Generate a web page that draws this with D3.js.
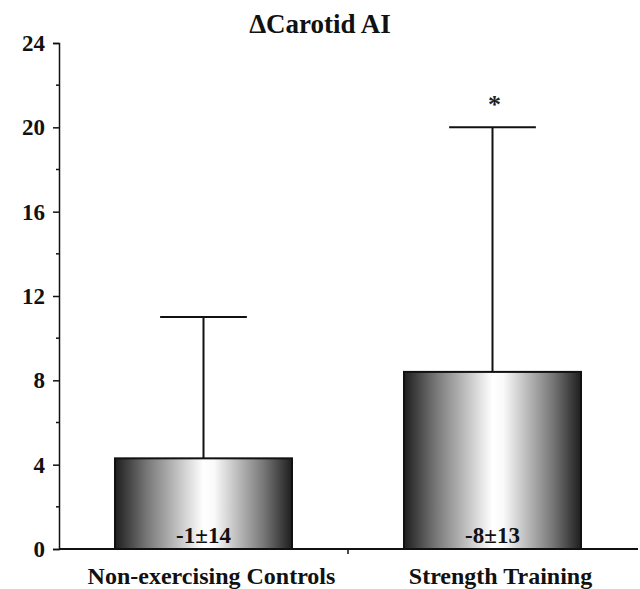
<!DOCTYPE html>
<html>
<head>
<meta charset="utf-8">
<script src="https://cdnjs.cloudflare.com/ajax/libs/d3/7.8.5/d3.min.js"></script>
<style>
  body { margin: 0; background: #fff; }
</style>
</head>
<body>
<script>
// data
var categories = ["Non-exercising Controls", "Strength Training"];
var means = [4.3, 8.4];
var errors = [6.7, 11.6];
var barLabels = ["-1\u00b114", "-8\u00b113"];
var marks = ["", "*"];
var yTicks = [0, 4, 8, 12, 16, 20, 24];
var yMinorTicks = [2, 6, 10, 14, 18, 22];

var width = 640;
var height = 589;
var serifFont = '"Liberation Serif", serif';

var svg = d3.select('body').append('svg')
    .attr('width', width)
    .attr('height', height)
    .attr('font-family', serifFont)
    .attr('font-weight', 'bold');

var x = d3.scaleBand()
    .domain(categories)
    .range([59, 637])
    .paddingInner(0.3875)
    .paddingOuter(0.19375);

var y = d3.scaleLinear()
    .domain([0, 24])
    .range([549, 43]);

// gradient for the bars
var grad = svg.append('defs').append('linearGradient')
    .attr('id', 'barGrad')
    .attr('x1', '0%').attr('x2', '100%')
    .attr('y1', '0%').attr('y2', '0%');
grad.append('stop').attr('offset', '0%').attr('stop-color', '#1e1e1e');
grad.append('stop').attr('offset', '18%').attr('stop-color', '#777');
grad.append('stop').attr('offset', '50%').attr('stop-color', '#fff');
grad.append('stop').attr('offset', '56%').attr('stop-color', '#fafafa');
grad.append('stop').attr('offset', '84%').attr('stop-color', '#777');
grad.append('stop').attr('offset', '100%').attr('stop-color', '#1e1e1e');

var data = categories.map(function(c, i) {
    return { cat: c, mean: means[i], err: errors[i], label: barLabels[i], mark: marks[i] };
});

// error bars (drawn first so bar covers the stem)
var capW = x.bandwidth() * 0.49;
var eb = svg.append('g').attr('stroke', '#111').attr('stroke-width', 2);
eb.selectAll('.stem').data(data).enter().append('line')
    .attr('x1', function(d) { return x(d.cat) + x.bandwidth() / 2; })
    .attr('x2', function(d) { return x(d.cat) + x.bandwidth() / 2; })
    .attr('y1', function(d) { return y(d.mean); })
    .attr('y2', function(d) { return y(d.mean + d.err); });
eb.selectAll('.cap').data(data).enter().append('line')
    .attr('x1', function(d) { return x(d.cat) + x.bandwidth() / 2 - capW / 2; })
    .attr('x2', function(d) { return x(d.cat) + x.bandwidth() / 2 + capW / 2; })
    .attr('y1', function(d) { return y(d.mean + d.err); })
    .attr('y2', function(d) { return y(d.mean + d.err); });

svg.selectAll('.bar').data(data).enter().append('rect')
    .attr('x', function(d) { return x(d.cat); })
    .attr('y', function(d) { return y(d.mean); })
    .attr('width', x.bandwidth())
    .attr('height', function(d) { return y(0) - y(d.mean); })
    .attr('fill', 'url(#barGrad)')
    .attr('stroke', '#111')
    .attr('stroke-width', 2);

// value labels inside bars
svg.selectAll('.vlab').data(data).enter().append('text')
    .attr('x', function(d) { return x(d.cat) + x.bandwidth() / 2; })
    .attr('y', 543)
    .attr('text-anchor', 'middle')
    .attr('font-family', serifFont)
    .attr('font-weight', 'bold')
    .attr('font-size', 23)
    .attr('fill', '#111')
    .text(function(d) { return d.label; });

// significance mark
svg.selectAll('.mark').data(data).enter().append('text')
    .attr('x', function(d) { return x(d.cat) + x.bandwidth() / 2 + 2; })
    .attr('y', function(d) { return y(d.mean + d.err) - 14; })
    .attr('text-anchor', 'middle')
    .attr('font-family', serifFont)
    .attr('font-weight', 'bold')
    .attr('font-size', 26)
    .attr('fill', '#222')
    .text(function(d) { return d.mark; });

// y axis
var yAxis = d3.axisLeft(y).tickValues(yTicks).tickSize(6).tickPadding(8);
var yg = svg.append('g').attr('transform', 'translate(59,0)').call(yAxis);
yg.attr('font-family', serifFont).attr('font-size', 23).attr('font-weight', 'bold');
yg.select('.domain').attr('stroke', '#111').attr('stroke-width', 1.5);
yg.selectAll('.tick line').attr('stroke', '#111').attr('stroke-width', 1.5);
yg.selectAll('.tick text')
    .attr('font-family', serifFont)
    .attr('font-weight', 'bold')
    .attr('font-size', 23)
    .attr('fill', '#111');
svg.append('g').selectAll('line').data(yMinorTicks).enter().append('line')
    .attr('x1', 56).attr('x2', 59)
    .attr('y1', function(d) { return y(d); })
    .attr('y2', function(d) { return y(d); })
    .attr('stroke', '#111').attr('stroke-width', 1.5);

// x axis line with tick between categories
svg.append('line')
    .attr('x1', 59).attr('x2', 638)
    .attr('y1', y(0)).attr('y2', y(0))
    .attr('stroke', '#111').attr('stroke-width', 2);
svg.append('line')
    .attr('x1', x(categories[1]) - x.step() * x.paddingInner() / 2)
    .attr('x2', x(categories[1]) - x.step() * x.paddingInner() / 2)
    .attr('y1', y(0)).attr('y2', y(0) + 5)
    .attr('stroke', '#111').attr('stroke-width', 1.5);

// category labels
svg.selectAll('.clab').data(categories).enter().append('text')
    .attr('x', function(d) { return x(d) + x.bandwidth() / 2 + 8; })
    .attr('y', 584)
    .attr('text-anchor', 'middle')
    .attr('font-family', serifFont)
    .attr('font-weight', 'bold')
    .attr('font-size', 24)
    .attr('fill', '#111')
    .text(function(d) { return d; });

// title
svg.append('text')
    .attr('x', 320)
    .attr('y', 33)
    .attr('text-anchor', 'middle')
    .attr('font-family', serifFont)
    .attr('font-weight', 'bold')
    .attr('font-size', 27)
    .attr('fill', '#111')
    .text('\u0394Carotid AI');
</script>
</body>
</html>
